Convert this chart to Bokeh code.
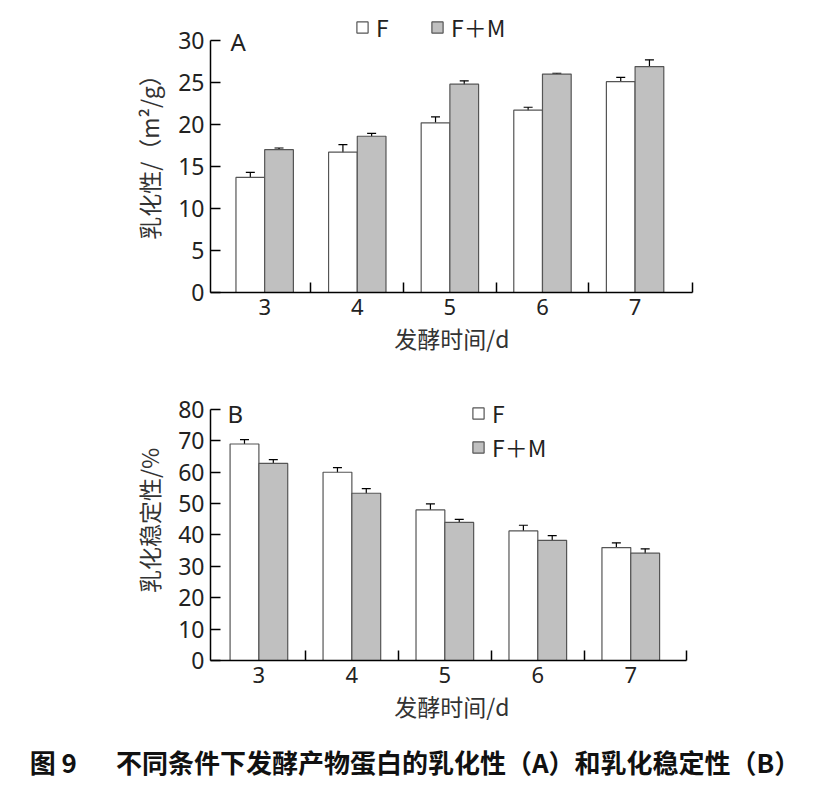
from bokeh.plotting import figure
from bokeh.models import (ColumnDataSource, Range1d, FixedTicker, Whisker, TeeHead,
                          Legend, LegendItem, Label, Div)
from bokeh.layouts import column
from bokeh.embed import file_html
from bokeh.resources import INLINE

# ---------------- data ----------------
days = [3, 4, 5, 6, 7]
day_labels = ["3", "4", "5", "6", "7"]

# A: emulsifying activity (m2/g)
emul_F = [13.7, 16.7, 20.2, 21.7, 25.1]
emul_F_err = [0.6, 0.9, 0.7, 0.35, 0.5]
emul_FM = [17.0, 18.6, 24.8, 26.0, 26.9]
emul_FM_err = [0.2, 0.35, 0.4, 0.1, 0.8]

# B: emulsion stability (%)
stab_F = [69.0, 60.0, 48.0, 41.3, 36.0]
stab_F_err = [1.4, 1.5, 1.9, 1.8, 1.5]
stab_FM = [62.8, 53.3, 44.0, 38.3, 34.2]
stab_FM_err = [1.2, 1.5, 1.0, 1.5, 1.4]

series_names = ["F", "F\uff0bM"]
x_label = "发酵时间/d"
yA_label = "乳化性/（m²/g）"
yB_label = "乳化稳定性/%"
caption = "图 9\u3000\u2002不同条件下发酵产物蛋白的乳化性（A）和乳化稳定性（B）"

yA_ticks = [0, 5, 10, 15, 20, 25, 30]
yB_ticks = [0, 10, 20, 30, 40, 50, 60, 70, 80]

# ---------------- style ----------------
NUM_FONT = "Noto Sans"
CJK_FONT = "Noto Sans CJK SC"
GRAY = "#c0c0c0"
EDGE = "#555555"
BW = 0.31
OFF = BW / 2


def make_panel(vals_F, err_F, vals_FM, err_FM, yticks, ylabel, letter,
               height, xr, xbounds, yr, ybounds, borders, legend_orient,
               legend_loc, legend_spacing, letter_pos):
    left, right, top, bottom = borders
    p = figure(width=820, height=height, output_backend="svg", toolbar_location=None,
               x_range=Range1d(*xr), y_range=Range1d(*yr),
               min_border_left=left, min_border_right=right,
               min_border_top=top, min_border_bottom=bottom)
    p.outline_line_color = None
    p.xgrid.visible = False
    p.ygrid.visible = False
    p.background_fill_color = "white"

    xF = [d - OFF for d in days]
    xM = [d + OFF for d in days]
    srcF = ColumnDataSource(dict(x=xF, top=vals_F,
                                 lo=[v - e for v, e in zip(vals_F, err_F)],
                                 hi=[v + e for v, e in zip(vals_F, err_F)]))
    srcM = ColumnDataSource(dict(x=xM, top=vals_FM,
                                 lo=[v - e for v, e in zip(vals_FM, err_FM)],
                                 hi=[v + e for v, e in zip(vals_FM, err_FM)]))
    rF = p.vbar(x="x", top="top", width=BW, bottom=0, source=srcF,
                fill_color="white", line_color=EDGE, line_width=1.2)
    rM = p.vbar(x="x", top="top", width=BW, bottom=0, source=srcM,
                fill_color=GRAY, line_color=EDGE, line_width=1.2)
    for s in (srcF, srcM):
        w = Whisker(source=s, base="x", upper="hi", lower="lo",
                    line_color="black", line_width=1.2,
                    upper_head=TeeHead(size=9, line_color="black", line_width=1.2),
                    lower_head=TeeHead(size=9, line_color="black", line_width=1.2))
        p.add_layout(w)

    # x axis: labels at the day values, tick marks between groups
    xa = p.xaxis[0]
    xa.bounds = xbounds
    xa.ticker = FixedTicker(ticks=days,
                            minor_ticks=[3.5, 4.5, 5.5, 6.5, xbounds[1] - 0.005])
    xa.major_label_overrides = {d: l for d, l in zip(days, day_labels)}
    xa.major_tick_in = 0
    xa.major_tick_out = 0
    xa.minor_tick_in = 10
    xa.minor_tick_out = 0
    xa.minor_tick_line_color = "black"
    xa.minor_tick_line_width = 1.5
    xa.axis_line_color = "black"
    xa.axis_line_width = 1.5
    xa.major_label_text_font = NUM_FONT
    xa.major_label_text_font_size = "22px"
    xa.major_label_text_color = "#222222"
    xa.major_label_standoff = 6
    xa.axis_label = x_label
    xa.axis_label_text_font = CJK_FONT
    xa.axis_label_text_font_style = "normal"
    xa.axis_label_text_font_size = "23px"
    xa.axis_label_text_color = "#333333"
    xa.axis_label_standoff = 3

    ya = p.yaxis[0]
    ya.bounds = ybounds
    ya.ticker = FixedTicker(ticks=yticks, minor_ticks=[])
    ya.major_tick_in = 10
    ya.major_tick_out = 0
    ya.major_tick_line_width = 1.5
    ya.axis_line_width = 1.5
    ya.minor_tick_in = 0
    ya.minor_tick_out = 0
    ya.major_label_text_font = NUM_FONT
    ya.major_label_text_font_size = "23px"
    ya.major_label_text_color = "#222222"
    ya.major_label_standoff = 6
    ya.axis_label = ylabel
    ya.axis_label_text_font = CJK_FONT
    ya.axis_label_text_font_style = "normal"
    ya.axis_label_text_font_size = "23px"
    ya.axis_label_text_color = "#333333"
    ya.axis_label_standoff = 9

    leg = Legend(items=[LegendItem(label=series_names[0], renderers=[rF]),
                        LegendItem(label=series_names[1], renderers=[rM])],
                 orientation=legend_orient, location=legend_loc,
                 padding=0, margin=0, spacing=legend_spacing,
                 glyph_width=14, glyph_height=14, label_standoff=7,
                 label_text_font=CJK_FONT, label_text_font_size="23px",
                 label_text_line_height=1.0, label_height=14,
                 label_text_color="#222222",
                 border_line_alpha=0, background_fill_alpha=0)
    p.add_layout(leg, "center")

    p.add_layout(Label(x=letter_pos[0], y=letter_pos[1], x_units="screen",
                       y_units="screen", text=letter, text_font=NUM_FONT,
                       text_font_size="24px", text_color="#222222",
                       text_baseline="top"))
    return p


# panel A: frame 210..698 x, 10..292 y (value 30 at y=40)
pA = make_panel(emul_F, emul_F_err, emul_FM, emul_FM_err, yA_ticks, yA_label, "A",
                height=375, xr=(2.415, 7.62), xbounds=(2.415, 7.62),
                yr=(0, 33.57), ybounds=(0, 30),
                borders=(210, 122, 10, 83), legend_orient="horizontal",
                legend_loc=(145, 248), legend_spacing=34, letter_pos=(20, 268))

# panel B: frame 210..698 x (aligned in column), 380..660 y (value 80 at y=409)
pB = make_panel(stab_F, stab_F_err, stab_FM, stab_FM_err, yB_ticks, yB_label, "B",
                height=365, xr=(2.4794, 7.664), xbounds=(2.4794, 7.6),
                yr=(0, 89.24), ybounds=(0, 80),
                borders=(205, 128, 5, 80), legend_orient="vertical",
                legend_loc=(261, 196), legend_spacing=0, letter_pos=(17, 264))

cap = Div(text=caption, width=820, height=45,
          styles={"font-family": CJK_FONT, "font-weight": "bold", "font-size": "26px",
                  "color": "#111111", "text-align": "center", "width": "820px",
                  "line-height": "34px", "white-space": "nowrap"})

layout = column(pA, pB, cap, spacing=0)
open("out.html", "w").write(file_html(layout, INLINE))
